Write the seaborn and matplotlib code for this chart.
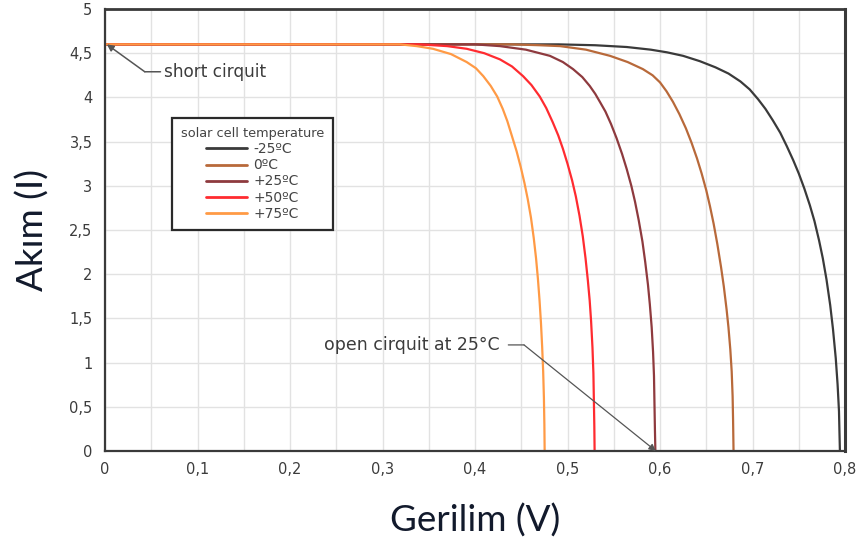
import matplotlib
matplotlib.use("Agg")
import matplotlib.pyplot as plt
import seaborn as sns
import pandas as pd
from matplotlib.lines import Line2D

# ---- data ----
temps = ["-25ºC", "0ºC", "+25ºC", "+50ºC", "+75ºC"]
colors = ["#3a3a3a", "#b8693a", "#8e3a3e", "#ff2b30", "#ff9a45"]

v_m25 = [0, 0.45, 0.49, 0.53, 0.564, 0.59, 0.6075, 0.625, 0.643, 0.66, 0.674, 0.687, 0.697, 0.706, 0.714, 0.722,
         0.730, 0.737, 0.744, 0.750, 0.756, 0.762, 0.767, 0.772, 0.776, 0.780, 0.784, 0.787, 0.790, 0.792, 0.7935,
         0.794, 0.7945]
i_m25 = [4.6, 4.6, 4.6, 4.59, 4.57, 4.54, 4.51, 4.47, 4.41, 4.34, 4.27, 4.18, 4.09, 3.98, 3.87, 3.74,
         3.60, 3.45, 3.29, 3.14, 2.97, 2.78, 2.60, 2.38, 2.18, 1.94, 1.65, 1.38, 1.05, 0.75, 0.45,
         0.22, 0.0]

v_0 = [0, 0.40, 0.44, 0.47, 0.492, 0.52, 0.546, 0.565, 0.5815, 0.592, 0.600, 0.607, 0.614, 0.621, 0.628, 0.634,
       0.640, 0.645, 0.650, 0.654, 0.658, 0.662, 0.666, 0.669, 0.672, 0.674, 0.676, 0.6775, 0.6785, 0.679, 0.6795]
i_0 = [4.6, 4.6, 4.6, 4.59, 4.58, 4.54, 4.47, 4.40, 4.32, 4.25, 4.17, 4.07, 3.95, 3.81, 3.65, 3.49,
       3.31, 3.14, 2.95, 2.77, 2.57, 2.34, 2.08, 1.86, 1.60, 1.40, 1.15, 0.90, 0.62, 0.35, 0.0]

v_25 = [0, 0.36, 0.40, 0.427, 0.455, 0.481, 0.495, 0.506, 0.516, 0.524, 0.530, 0.535, 0.541, 0.547, 0.553, 0.559,
        0.564, 0.569, 0.573, 0.577, 0.581, 0.584, 0.587, 0.589, 0.591, 0.5925, 0.5935, 0.594, 0.5945, 0.595]
i_25 = [4.6, 4.6, 4.6, 4.58, 4.54, 4.47, 4.40, 4.32, 4.23, 4.13, 4.04, 3.95, 3.84, 3.70, 3.54, 3.36,
        3.19, 3.00, 2.82, 2.61, 2.37, 2.14, 1.88, 1.66, 1.40, 1.12, 0.85, 0.55, 0.25, 0.0]

v_50 = [0, 0.30, 0.34, 0.37, 0.391, 0.41, 0.427, 0.440, 0.452, 0.461, 0.470, 0.477, 0.484, 0.490, 0.495, 0.500,
        0.505, 0.509, 0.513, 0.5165, 0.5195, 0.522, 0.524, 0.5255, 0.527, 0.528, 0.5285, 0.529, 0.5293]
i_50 = [4.6, 4.6, 4.6, 4.58, 4.55, 4.50, 4.43, 4.35, 4.24, 4.14, 4.01, 3.88, 3.72, 3.57, 3.42, 3.25,
        3.06, 2.88, 2.66, 2.43, 2.18, 1.93, 1.70, 1.47, 1.17, 0.88, 0.58, 0.28, 0.0]

v_75 = [0, 0.27, 0.30, 0.319, 0.337, 0.3545, 0.374, 0.391, 0.401, 0.409, 0.417, 0.424, 0.430, 0.435, 0.440, 0.445,
        0.4495, 0.4535, 0.457, 0.4605, 0.4635, 0.466, 0.468, 0.4698, 0.4713, 0.4726, 0.4737, 0.4745, 0.475, 0.4753]
i_75 = [4.6, 4.6, 4.6, 4.6, 4.58, 4.55, 4.49, 4.40, 4.33, 4.24, 4.13, 4.01, 3.87, 3.73, 3.56, 3.39,
        3.21, 3.03, 2.85, 2.64, 2.41, 2.18, 1.95, 1.70, 1.45, 1.18, 0.90, 0.60, 0.30, 0.0]

x_ticks = [0, 0.1, 0.2, 0.3, 0.4, 0.5, 0.6, 0.7, 0.8]
x_tick_labels = ["0", "0,1", "0,2", "0,3", "0,4", "0,5", "0,6", "0,7", "0,8"]
y_ticks = [0, 0.5, 1, 1.5, 2, 2.5, 3, 3.5, 4, 4.5, 5]
y_tick_labels = ["0", "0,5", "1", "1,5", "2", "2,5", "3", "3,5", "4", "4,5", "5"]

# ---- build table ----
series_v = [v_m25, v_0, v_25, v_50, v_75]
series_i = [i_m25, i_0, i_25, i_50, i_75]
rows = []
for t, vs, cs in zip(temps, series_v, series_i):
    for v, c in zip(vs, cs):
        rows.append({"temp": t, "V": v, "I": c})
df = pd.DataFrame(rows)

sns.set_theme(style="white")
plt.rcParams["font.family"] = ["DejaVu Sans"]

fig = plt.figure(figsize=(8.64, 5.5), dpi=100)
ax = fig.add_axes([105 / 864, 99 / 550, 740 / 864, 442 / 550])

sns.lineplot(data=df, x="V", y="I", hue="temp", hue_order=temps,
             palette=dict(zip(temps, colors)), sort=False, estimator=None,
             units="temp", linewidth=1.6, ax=ax, legend=False)

ax.set_xlim(0, 0.8)
ax.set_ylim(0, 5)

# grid
ax.set_xticks([k * 0.05 for k in range(17)], minor=True)
ax.set_xticks(x_ticks)
ax.set_xticklabels(x_tick_labels)
ax.set_yticks(y_ticks)
ax.set_yticklabels(y_tick_labels)
ax.grid(True, which="both", axis="x", color="#e2e2e2", lw=1)
ax.grid(True, which="major", axis="y", color="#e2e2e2", lw=1)
ax.set_axisbelow(True)
ax.tick_params(axis="both", which="both", length=0, labelsize=10.5, labelcolor="#3c3c3c")
ax.tick_params(axis="x", pad=8)
ax.tick_params(axis="y", pad=9)

for s in ax.spines.values():
    s.set_visible(True)
    s.set_color("#3a3a3a")
    s.set_linewidth(1.6)
ax.spines["top"].set_linewidth(2.0)
ax.spines["right"].set_linewidth(2.2)

ax.set_xlabel("Gerilim (V)", fontsize=26.5, color="#121a2c", family=["Lato", "DejaVu Sans"], labelpad=19)
ax.set_ylabel("Akım (I)", fontsize=26.5, color="#121a2c", family=["Lato", "DejaVu Sans"], labelpad=14)

# legend
handles = [Line2D([0], [0], color=c, lw=2) for c in colors]
leg = ax.legend(handles, temps, title="solar cell temperature", loc="upper left",
                bbox_to_anchor=(0.0905, 0.753), borderaxespad=0,
                fontsize=10, title_fontsize=9.3,
                handlelength=2.9, handletextpad=0.5, labelspacing=0.15,
                frameon=True, fancybox=False, framealpha=1, borderpad=0.65)
leg.get_frame().set_edgecolor("#2a2a2a")
leg.get_frame().set_linewidth(1.6)
for t in leg.get_texts():
    t.set_color("#444444")
leg.get_title().set_color("#444444")

# annotations
ax.annotate("", xy=(0.002, 4.6), xytext=(0.043, 4.29),
            arrowprops=dict(arrowstyle="-|>", color="#555555", lw=1.1,
                            mutation_scale=10, shrinkA=0, shrinkB=0))
ax.annotate("", xy=(0.043, 4.29), xytext=(0.060, 4.29),
            arrowprops=dict(arrowstyle="-", color="#555555", lw=1.1, shrinkA=0, shrinkB=0))
ax.text(0.064, 4.29, "short cirquit", fontsize=12.2, color="#3c3c3c", va="center", ha="left")

ax.annotate("", xy=(0.5955, 0.0), xytext=(0.453, 1.20),
            arrowprops=dict(arrowstyle="-|>", color="#555555", lw=0.9,
                            mutation_scale=10, shrinkA=0, shrinkB=0))
ax.annotate("", xy=(0.453, 1.20), xytext=(0.436, 1.20),
            arrowprops=dict(arrowstyle="-", color="#555555", lw=0.9, shrinkA=0, shrinkB=0))
ax.text(0.427, 1.20, "open cirquit at 25°C", fontsize=12.5, color="#3c3c3c", va="center", ha="right")

fig.savefig("out.png", dpi=100)
